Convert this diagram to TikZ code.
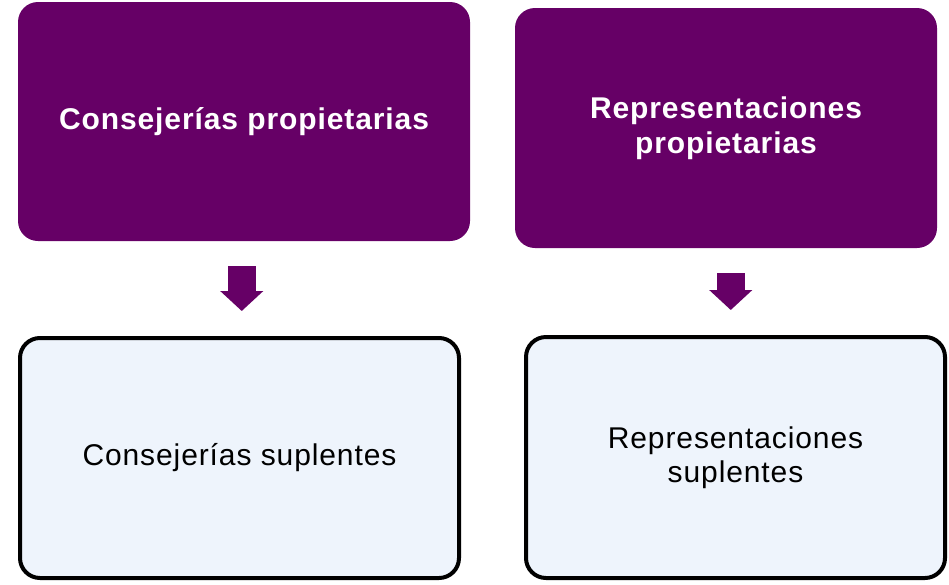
\documentclass[tikz,border=0pt]{standalone}
\usepackage{fontspec}
\setmainfont{Liberation Sans}[LetterSpace=3]
\usetikzlibrary{calc,arrows.meta}

\definecolor{plum}{HTML}{660066}
\definecolor{paleblue}{HTML}{EEF4FC}

\tikzset{
  topbox/.style={fill=plum, rounded corners=20pt, align=center, text=white,
                 font=\bfseries\fontsize{30}{35}\selectfont},
  lowbox/.style={draw=black, line width=4pt, fill=paleblue, rounded corners=20pt,
                 align=center, font=\fontsize{30}{34}\selectfont},
  downarrow/.style={plum, line width=28pt, -{Triangle[width=42pt, length=20pt]},
                    shorten <=25pt, shorten >=25pt}
}

\begin{document}
\begin{tikzpicture}[x=1pt, y=-1pt]
  \useasboundingbox (0, 0) rectangle (949, 584);

  \node [topbox, minimum width=452pt, minimum height=239pt] (top-l) at (244, 121.5)
    {Consejerías propietarias};
  \node [topbox, minimum width=422pt, minimum height=240pt] (top-r) at (726, 128)
    {Representaciones\\propietarias};

  \node [lowbox, minimum width=439pt, minimum height=240pt] (low-l) at (239.5, 458)
    {Consejerías suplentes};
  \node [lowbox, minimum width=419pt, minimum height=241pt] (low-r) at (735.5, 457.5)
    {Representaciones\\suplentes};

  \foreach \s in {l, r}
  {
    \coordinate (mid-\s) at ($(top-\s.south)!0.5!(low-\s.north)$);
    \draw [downarrow] (top-\s.south -| mid-\s) -- (low-\s.north -| mid-\s);
  }

\end{tikzpicture}
\end{document}
